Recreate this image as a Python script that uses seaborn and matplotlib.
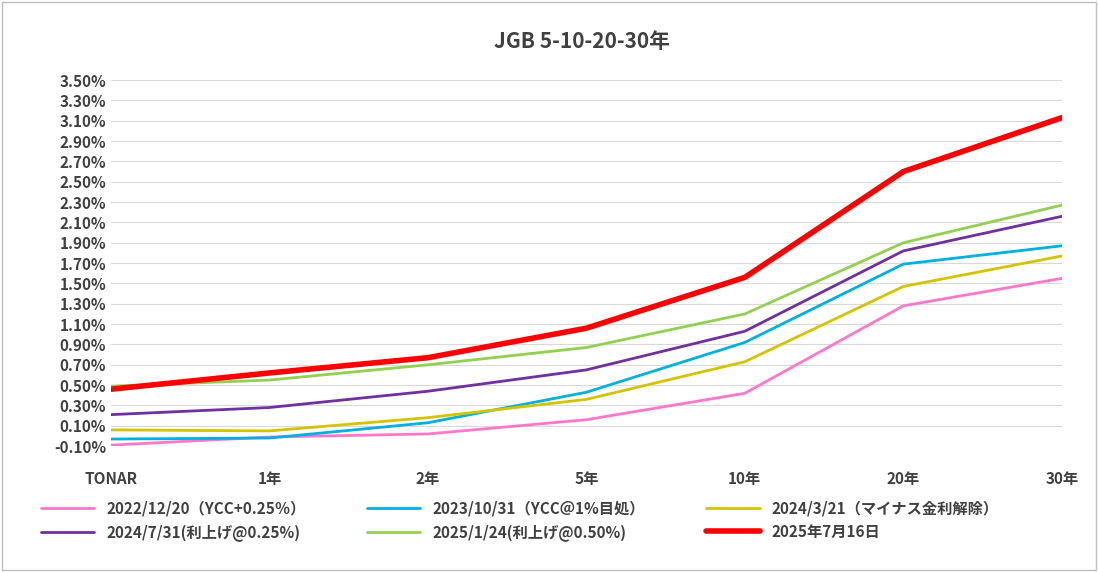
import matplotlib.pyplot as plt
import seaborn as sb
import numpy as np
import pandas as pd
from matplotlib.ticker import FuncFormatter

tenors = ['TONAR', '1年', '2年', '5年', '10年', '20年', '30年']
labels = ['2022/12/20（YCC+0.25％）', '2023/10/31（YCC＠1%目処）', '2024/3/21（マイナス金利解除）',
          '2024/7/31(利上げ@0.25%)', '2025/1/24(利上げ@0.50%)', '2025年7月16日']
y2022 = [-0.09, -0.01, 0.02, 0.16, 0.42, 1.28, 1.55]
y2023 = [-0.03, -0.02, 0.13, 0.43, 0.92, 1.69, 1.87]
y2024a = [0.06, 0.05, 0.18, 0.36, 0.73, 1.47, 1.77]
y2024b = [0.21, 0.28, 0.44, 0.65, 1.03, 1.82, 2.16]
y2025a = [0.49, 0.55, 0.70, 0.87, 1.20, 1.90, 2.27]
y2025b = [0.46, 0.62, 0.77, 1.06, 1.56, 2.60, 3.13]
colors = ['#ff77cc', '#00b0e0', '#d4c400', '#7030a0', '#92d050', '#ff0000']
widths = [2, 2, 2, 2, 2, 4]

rows = []
for lab, ys in zip(labels, [y2022, y2023, y2024a, y2024b, y2025a, y2025b]):
    for i, v in enumerate(ys):
        rows.append({'series': lab, 'x': i, 'y': v})
df = pd.DataFrame(rows)

sb.set_style('white')
plt.rcParams['font.family'] = ['Noto Sans CJK JP', 'DejaVu Sans']
fig = plt.figure(figsize=(10.98, 5.72), dpi=100)
ax = fig.add_axes([0.101, 0.22, 0.866, 0.64])
for lab, c, w in zip(labels, colors, widths):
    sb.lineplot(data=df[df.series == lab], x='x', y='y', color=c, linewidth=w, label=lab, ax=ax)

ax.set_xlim(0, 6)
ax.set_ylim(-0.10, 3.50)
ax.set_yticks(np.round(np.arange(-0.10, 3.51, 0.20), 2))
ax.yaxis.set_major_formatter(FuncFormatter(lambda v, p: f'{v:.2f}%'))
ax.set_xticks(range(7), tenors)
ax.tick_params(axis='both', labelsize=11, length=0, colors='#404040')
for t in ax.get_xticklabels() + ax.get_yticklabels():
    t.set_fontweight('bold')
ax.tick_params(axis='x', pad=18)
ax.grid(axis='y', color='#d9d9d9', linewidth=0.8)
for s in ax.spines.values():
    s.set_visible(False)
ax.set_xlabel('')
ax.set_ylabel('')
fig.suptitle('JGB 5-10-20-30年', x=0.53, y=0.945, fontsize=15, fontweight='bold', color='#404040')
h, l = ax.get_legend_handles_labels()
order = [0, 3, 1, 4, 2, 5]
ax.legend([h[i] for i in order], [l[i] for i in order], loc='upper center',
          bbox_to_anchor=(0.43, -0.11), ncol=3, frameon=False,
          prop={'size': 11, 'weight': 'bold'}, columnspacing=4, handlelength=3.5, labelcolor='#404040')
fig.patches.append(plt.Rectangle((0.002, 0.003), 0.996, 0.994, transform=fig.transFigure,
                                 fill=False, edgecolor='#bfbfbf', linewidth=1))
fig.savefig('out.png')
plt.close('all')
